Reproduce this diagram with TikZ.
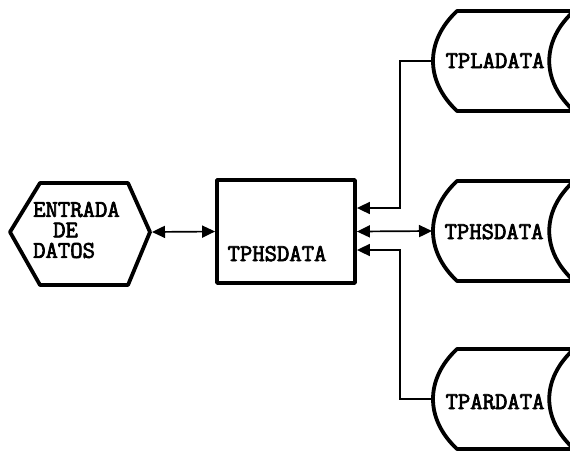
\documentclass[tikz,border=0pt]{standalone}
\usepackage{fontspec}
\usetikzlibrary{arrows.meta}
\newfontfamily\datafont[FakeBold=3]{Latin Modern Mono}

\begin{document}
\begin{tikzpicture}[x=1pt, y=-1pt,
    shapeline/.style={line width=3.8pt, line join=round},
    link/.style={line width=1.7pt},
    onehead/.style={-{Triangle[length=13pt,width=12pt]}},
    twohead/.style={{Triangle[length=13pt,width=12pt]}-{Triangle[length=13pt,width=12pt]}},
    lbl/.style={inner sep=0pt, font=\datafont\fontsize{24}{20.5}\selectfont}]
  \useasboundingbox (0,0) rectangle (570,453);
  \clip (0,0) rectangle (570,453);
  % input hexagon
  \draw[shapeline] (10,232) -- (40,183) -- (128,183) -- (150,232)
    -- (128,285) -- (40,285) -- cycle;
  \node[lbl, align=left, anchor=west] (entrada) at (33,230)
    {ENTRADA\\\hspace*{20pt}DE\\DATOS};
  \coordinate (entR) at (152,232);
  % main box
  \node[shapeline, draw, minimum width=138pt, minimum height=103pt,
    inner sep=0pt] (hsbox) at (286,231.5) {};
  \node[lbl, anchor=base] (hslbl) at (277,261) {TPHSDATA};
  % data files
  \foreach \nm/\my in {la/61, hs/231, ar/399} {
    \draw[shapeline, fill=white] (457,\my-50) -- (574,\my-50)
      .. controls (541,\my-20) and (541,\my+20) .. (574,\my+50)
      -- (457,\my+50)
      .. controls (425,\my+20) and (425,\my-20) .. cycle;
    \coordinate (\nm in) at (432,\my);
  }
  \node[lbl, anchor=base] (lalbl) at (495,68) {TPLADATA};
  \node[lbl, anchor=base] (hslbl2) at (494,239) {TPHSDATA};
  \node[lbl, anchor=base] (arlbl) at (495,409) {TPARDATA};
  % links
  \draw[link, twohead] (entR) -- (hsbox.west);
  \draw[link, twohead] (hsbox.east) -- (hsin);
  \draw[link, onehead] (lain) -- ++(-32,0) |- ([yshift=23.5pt]hsbox.east);
  \draw[link, onehead] (arin) -- ++(-32,0) |- ([yshift=-18.5pt]hsbox.east);
\end{tikzpicture}
\end{document}
